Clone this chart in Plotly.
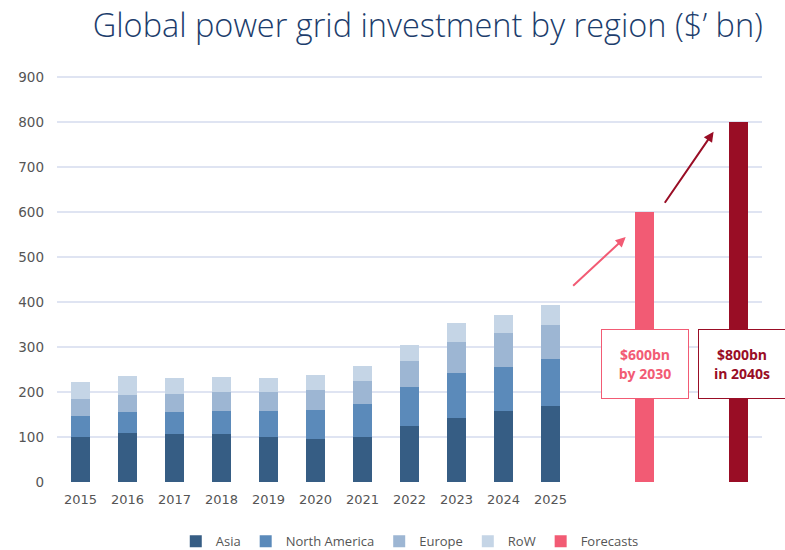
import plotly.graph_objects as go

years = ["2015", "2016", "2017", "2018", "2019", "2020", "2021", "2022", "2023", "2024", "2025"]
asia = [100, 109, 106, 106, 99, 96, 99, 124, 143, 157, 168]
north_america = [47, 46, 49, 52, 58, 64, 74, 86, 100, 99, 105]
europe = [37, 39, 40, 41, 42, 45, 52, 59, 69, 74, 76]
row = [39, 41, 37, 35, 31, 33, 33, 36, 42, 42, 44]

forecast_cats = ["2030", "2040s"]
forecast_vals = [600, 800]
# slot order on the x axis (empty slots leave gaps between the forecast bars)
slots = years + ["", "2030", "", "2040s"]

year_pos = [slots.index(y) for y in years]
fc_pos = [slots.index(c) for c in forecast_cats]

colors = {"Asia": "#365d84", "North America": "#5b8aba", "Europe": "#9db6d3", "RoW": "#c5d5e6"}
pink = "#f25b74"
darkred = "#990d25"

fig = go.Figure()
for name, vals in [("Asia", asia), ("North America", north_america), ("Europe", europe), ("RoW", row)]:
    fig.add_trace(go.Bar(x=year_pos, y=vals, name=name, marker_color=colors[name], marker_line_width=0))

fig.add_trace(go.Bar(x=[fc_pos[0]], y=[forecast_vals[0]], name="Forecasts", marker_color=pink, marker_line_width=0))
fig.add_trace(go.Bar(x=[fc_pos[1]], y=[forecast_vals[1]], name="Forecasts 2040s", marker_color=darkred,
                     marker_line_width=0, showlegend=False))

font_main = "Open Sans, Lato, sans-serif"
font_ticks = "DejaVu Sans, sans-serif"

fig.update_layout(
    width=785, height=550,
    barmode="stack", bargap=0.6,
    paper_bgcolor="white", plot_bgcolor="white",
    margin=dict(l=57, r=23, t=75, b=68, autoexpand=False),
    title=dict(text="Global power grid investment by region ($\u2019 bn)", x=0.545, xanchor="center",
               y=0.953, yanchor="middle", font=dict(family=font_main, size=32.5, color="#1c3d6c", weight=300)),
    font=dict(family=font_ticks, size=13, color="#555555"),
    showlegend=True,
    legend=dict(orientation="h", x=0.522, xanchor="center", xref="container",
                y=0.016, yanchor="middle", yref="container",
                font=dict(family=font_main, size=13, color="#555555"), itemwidth=30, traceorder="normal"),
    xaxis=dict(range=[-0.5, len(slots) - 0.5], tickvals=year_pos, ticktext=years, automargin=False,
               showgrid=False, zeroline=False, showline=False, ticklabelstandoff=8,
               ticks="", tickfont=dict(size=13, color="#555555")),
    yaxis=dict(range=[0, 904], tickvals=list(range(0, 901, 100)), showgrid=True, gridcolor="#dfe4f2",
               gridwidth=1.5, automargin=False,
               zeroline=False, showline=False, ticks="", ticklabelstandoff=12,
               tickfont=dict(size=13.5, color="#555555")),
)

# Forecast labels
fig.add_annotation(x=fc_pos[0], y=263, xref="x", yref="y", text="<b>$600bn<br>by 2030</b>",
                   showarrow=False, font=dict(family=font_main, size=14, color=pink),
                   bgcolor="white", bordercolor=pink, borderwidth=1, borderpad=0, width=86, height=68)
fig.add_annotation(x=fc_pos[1], y=263, xref="x", yref="y", xshift=3, text="<b>$800bn<br>in 2040s</b>",
                   showarrow=False, font=dict(family=font_main, size=14, color=darkred),
                   bgcolor="white", bordercolor=darkred, borderwidth=1, borderpad=0, width=86, height=68)

# Arrows
fig.add_annotation(x=fc_pos[0] - 0.4, y=544, ax=fc_pos[0] - 1.55, ay=433, xref="x", yref="y", axref="x", ayref="y",
                   text="", showarrow=True, arrowhead=2, arrowsize=1, arrowwidth=2, arrowcolor=pink)
fig.add_annotation(x=fc_pos[1] - 0.53, y=778, ax=fc_pos[1] - 1.59, ay=617, xref="x", yref="y", axref="x", ayref="y",
                   text="", showarrow=True, arrowhead=2, arrowsize=1, arrowwidth=2, arrowcolor=darkred)

fig.write_html("out.html", post_script="document.body.style.margin='0';",
               config={"displayModeBar": False})
